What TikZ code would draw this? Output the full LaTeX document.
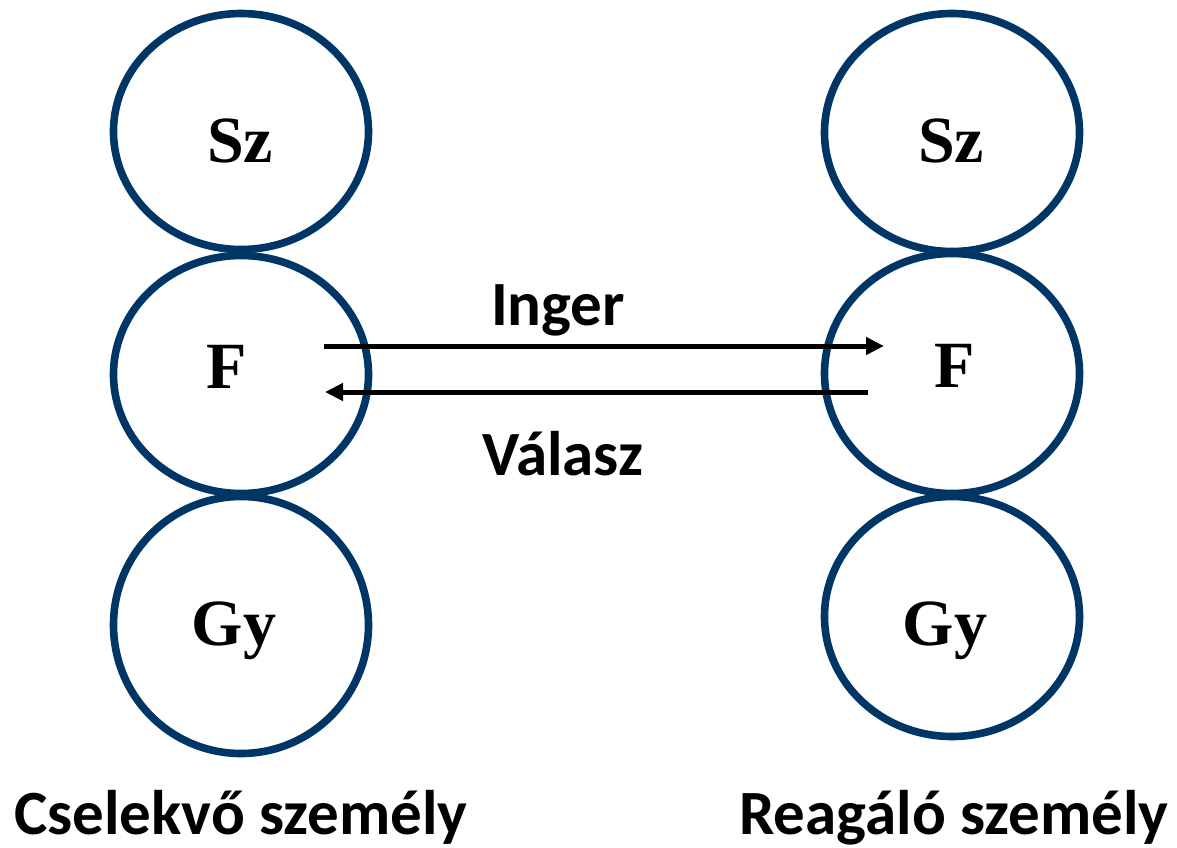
\documentclass[tikz,border=0pt]{standalone}
\usepackage{fontspec}
\setmainfont{Liberation Serif}
\newfontfamily\calibri{Carlito}
\usetikzlibrary{shapes.geometric,arrows.meta}
\definecolor{navy}{RGB}{0,54,102}
\tikzset{
  lobe/.style={draw=navy, line width=3.8pt, ellipse, minimum width=127.5pt, inner sep=0pt},
  letter/.style={font=\bfseries\fontsize{33}{36}\selectfont, anchor=base, inner sep=0pt},
  caption/.style={font=\calibri\bfseries\fontsize{31.5}{34}\selectfont, anchor=base, inner sep=0pt},
  signal/.style={line width=2.5pt, -{Triangle[length=9pt,width=8.5pt]}}
}
\begin{document}
\begin{tikzpicture}[x=0.5pt,y=-0.5pt]
\useasboundingbox (0,0) rectangle (1177,847);
% acting person
\node[lobe, minimum height=118pt] (sz1) at (241,131.5) {};
\node[lobe, minimum height=119pt] (f1) at (241,374.5) {};
\node[lobe, minimum height=128.5pt] (gy1) at (241,625) {};
\node[letter] (szt1) at (240,162) {Sz};
\node[letter] (ft1) at (227,388) {F};
\node[letter] (gyt1) at (234,645) {Gy};
% reacting person
\node[lobe, minimum height=119pt] (sz2) at (952,132.5) {};
\node[lobe, minimum height=120pt] (f2) at (952,373.5) {};
\node[lobe, minimum height=120pt] (gy2) at (952,616.5) {};
\node[letter] (szt2) at (951,162) {Sz};
\node[letter] (ft2) at (955,387) {F};
\node[letter] (gyt2) at (945,645) {Gy};
% stimulus and response
\coordinate (ingerS) at (324,346);
\coordinate (ingerE) at (884,346);
\coordinate (valaszS) at (868,392);
\coordinate (valaszE) at (325,392);
\draw[signal] (ingerS) -- (ingerE);
\draw[signal] (valaszS) -- (valaszE);
\node[caption] (inger) at (558,325) {Inger};
\node[caption] (valasz) at (563,475) {Válasz};
% captions
\node[caption] (cselekvo) at (241,834) {Cselekvő személy};
\node[caption] (reagalo) at (954,834) {Reagáló személy};
\end{tikzpicture}
\end{document}
